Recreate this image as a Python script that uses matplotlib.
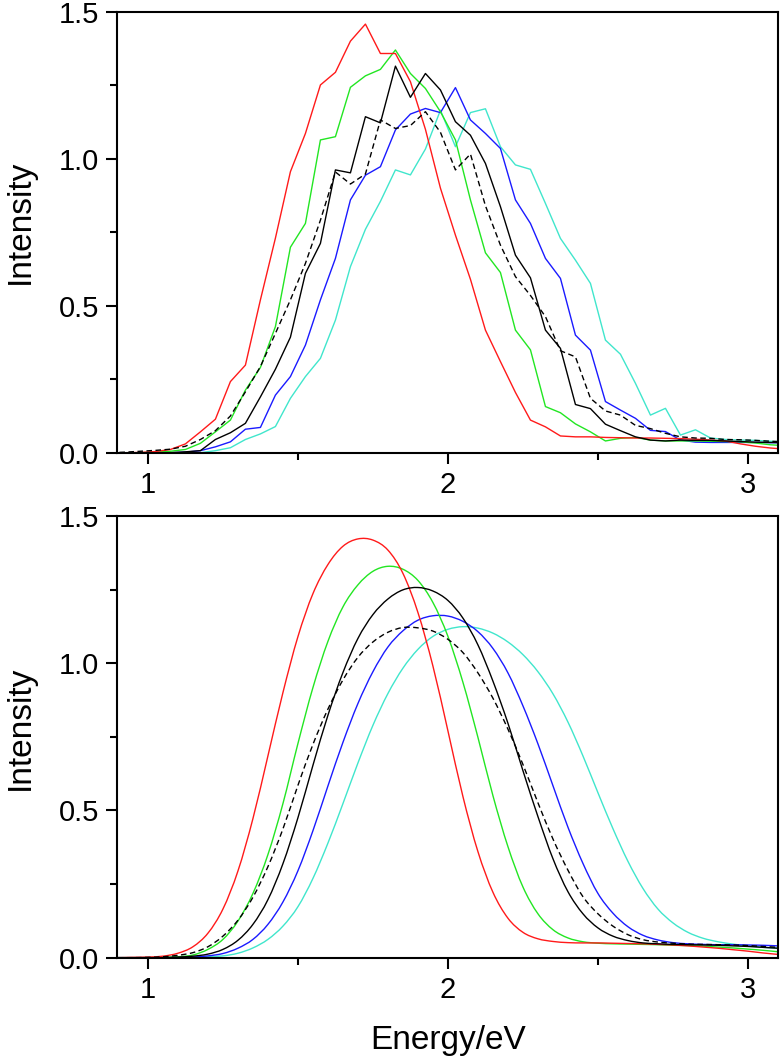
import matplotlib
matplotlib.use("Agg")
import matplotlib.pyplot as plt
from matplotlib.ticker import MultipleLocator, FormatStrFormatter
from matplotlib.path import Path
from matplotlib.patches import PathPatch

plt.rcParams['font.family'] = ['Liberation Sans', 'DejaVu Sans']

# top panel: measured spectra (bin centres, eV)
e_raw = [0.875, 0.925, 0.975, 1.025, 1.075, 1.125, 1.175, 1.225, 1.275, 1.325,
         1.375, 1.425, 1.475, 1.525, 1.575, 1.625, 1.675, 1.725, 1.775, 1.825,
         1.875, 1.925, 1.975, 2.025, 2.075, 2.125, 2.175, 2.225, 2.275, 2.325,
         2.375, 2.425, 2.475, 2.525, 2.575, 2.625, 2.675, 2.725, 2.775, 2.825,
         2.875, 2.925, 2.975, 3.025, 3.075, 3.125]
raw_red = [0.0, 0.0, 0.001, 0.004, 0.011, 0.030, 0.071, 0.114, 0.242, 0.298,
           0.52, 0.73, 0.956, 1.086, 1.251, 1.294, 1.400, 1.458, 1.358, 1.358,
           1.262, 1.10, 0.90, 0.74, 0.59, 0.417, 0.31, 0.205, 0.111, 0.088,
           0.057, 0.054, 0.054, 0.052, 0.051, 0.050, 0.050, 0.049, 0.048, 0.046,
           0.043, 0.040, 0.030, 0.022, 0.016, 0.012]
raw_green = [0.0, 0.0, 0.0, 0.002, 0.005, 0.011, 0.032, 0.071, 0.111, 0.213,
             0.29, 0.429, 0.699, 0.78, 1.064, 1.075, 1.243, 1.282, 1.304, 1.37,
             1.29, 1.239, 1.16, 1.064, 0.86, 0.68, 0.613, 0.417, 0.35, 0.157,
             0.136, 0.098, 0.071, 0.040, 0.049, 0.052, 0.043, 0.040, 0.040, 0.040,
             0.039, 0.038, 0.037, 0.033, 0.027, 0.024]
raw_black = [0.0, 0.0, 0.0, 0.0, 0.0, 0.003, 0.007, 0.045, 0.068, 0.10,
             0.19, 0.284, 0.393, 0.61, 0.712, 0.962, 0.952, 1.143, 1.122, 1.315,
             1.209, 1.29, 1.234, 1.126, 1.08, 0.984, 0.837, 0.672, 0.595, 0.417,
             0.355, 0.164, 0.15, 0.097, 0.075, 0.054, 0.043, 0.040, 0.043, 0.042,
             0.042, 0.040, 0.038, 0.036, 0.035, 0.034]
raw_mean = [0.0, 0.002, 0.005, 0.008, 0.012, 0.022, 0.045, 0.075, 0.125, 0.207,
            0.293, 0.406, 0.52, 0.644, 0.791, 0.955, 0.914, 0.948, 1.132, 1.103,
            1.113, 1.16, 1.09, 0.962, 1.016, 0.84, 0.706, 0.599, 0.535, 0.463,
            0.347, 0.326, 0.185, 0.142, 0.128, 0.093, 0.082, 0.066, 0.054, 0.050,
            0.049, 0.045, 0.044, 0.042, 0.039, 0.037]
raw_blue = [0.0, 0.0, 0.0, 0.0, 0.0, 0.002, 0.007, 0.02, 0.037, 0.08,
            0.086, 0.196, 0.259, 0.366, 0.52, 0.661, 0.86, 0.944, 0.973, 1.098,
            1.152, 1.171, 1.157, 1.242, 1.132, 1.086, 1.035, 0.86, 0.78, 0.661,
            0.593, 0.40, 0.349, 0.174, 0.145, 0.117, 0.076, 0.072, 0.043, 0.036,
            0.035, 0.035, 0.035, 0.035, 0.034, 0.034]
raw_cyan = [0.0, 0.0, 0.0, 0.0, 0.0, 0.0, 0.0, 0.007, 0.017, 0.045,
            0.064, 0.089, 0.185, 0.259, 0.321, 0.451, 0.633, 0.76, 0.855, 0.962,
            0.945, 1.033, 1.165, 1.041, 1.157, 1.17, 1.041, 0.979, 0.964, 0.848,
            0.729, 0.655, 0.576, 0.383, 0.335, 0.236, 0.128, 0.151, 0.06, 0.078,
            0.05, 0.045, 0.043, 0.042, 0.039, 0.037]

# bottom panel: fitted curves
e_fit = [0.90, 0.95, 1.00, 1.05, 1.10, 1.15, 1.20, 1.25, 1.30, 1.35,
         1.40, 1.45, 1.50, 1.55, 1.60, 1.65, 1.70, 1.75, 1.80, 1.85,
         1.90, 1.95, 2.00, 2.05, 2.10, 2.15, 2.20, 2.25, 2.30, 2.35,
         2.40, 2.45, 2.50, 2.55, 2.60, 2.65, 2.70, 2.75, 2.80, 2.85,
         2.90, 2.95, 3.00, 3.05, 3.10]
fit_red = [0.000, 0.001, 0.002, 0.005, 0.015, 0.037, 0.083, 0.165, 0.294, 0.472,
           0.685, 0.900, 1.090, 1.236, 1.335, 1.397, 1.422, 1.418, 1.384, 1.305,
           1.172, 0.990, 0.770, 0.547, 0.360, 0.222, 0.134, 0.086, 0.064, 0.055,
           0.051, 0.050, 0.050, 0.049, 0.048, 0.047, 0.045, 0.043, 0.040, 0.036,
           0.032, 0.027, 0.022, 0.016, 0.011]
fit_green = [0.000, 0.000, 0.000, 0.001, 0.003, 0.009, 0.028, 0.062, 0.124, 0.218,
             0.350, 0.523, 0.727, 0.917, 1.074, 1.191, 1.266, 1.312, 1.329, 1.319,
             1.281, 1.206, 1.091, 0.935, 0.748, 0.550, 0.377, 0.240, 0.149, 0.095,
             0.067, 0.054, 0.049, 0.047, 0.046, 0.045, 0.044, 0.042, 0.041, 0.039,
             0.036, 0.033, 0.029, 0.025, 0.020]
fit_black = [0.000, 0.000, 0.000, 0.000, 0.002, 0.005, 0.012, 0.028, 0.059, 0.113,
             0.197, 0.319, 0.475, 0.653, 0.823, 0.968, 1.084, 1.165, 1.218, 1.249,
             1.257, 1.245, 1.213, 1.153, 1.062, 0.939, 0.796, 0.635, 0.479, 0.336,
             0.224, 0.149, 0.101, 0.073, 0.058, 0.050, 0.047, 0.045, 0.044, 0.043,
             0.042, 0.040, 0.038, 0.035, 0.032]
fit_mean = [0.000, 0.000, 0.001, 0.003, 0.008, 0.017, 0.037, 0.073, 0.127, 0.205,
            0.309, 0.437, 0.585, 0.724, 0.844, 0.943, 1.020, 1.072, 1.105, 1.121,
            1.120, 1.109, 1.081, 1.036, 0.967, 0.881, 0.776, 0.656, 0.526, 0.403,
            0.297, 0.207, 0.149, 0.107, 0.078, 0.061, 0.053, 0.049, 0.046, 0.045,
            0.044, 0.043, 0.041, 0.038, 0.035]
fit_blue = [0.000, 0.000, 0.000, 0.000, 0.001, 0.002, 0.006, 0.014, 0.032, 0.062,
            0.113, 0.189, 0.295, 0.431, 0.583, 0.731, 0.863, 0.971, 1.055, 1.110,
            1.146, 1.161, 1.160, 1.142, 1.107, 1.050, 0.967, 0.855, 0.726, 0.584,
            0.443, 0.320, 0.218, 0.151, 0.105, 0.076, 0.060, 0.051, 0.047, 0.045,
            0.044, 0.044, 0.043, 0.042, 0.040]
fit_cyan = [0.000, 0.000, 0.000, 0.000, 0.000, 0.001, 0.003, 0.006, 0.015, 0.033,
            0.062, 0.107, 0.173, 0.269, 0.389, 0.523, 0.661, 0.789, 0.897, 0.983,
            1.047, 1.091, 1.115, 1.124, 1.119, 1.102, 1.072, 1.029, 0.971, 0.896,
            0.800, 0.685, 0.560, 0.438, 0.327, 0.235, 0.165, 0.118, 0.086, 0.066,
            0.054, 0.046, 0.040, 0.035, 0.032]

c_red = '#ff1a1a'
c_green = '#22e622'
c_blue = '#1a1aff'
c_cyan = '#40e6cc'
dash = (0, (4, 2.5))


def smooth_line(ax, x, y, **kw):
    # draw the fitted curve through its points as Bezier segments (Catmull-Rom)
    n = len(x)
    verts = [(x[0], y[0])]
    codes = [Path.MOVETO]
    for i in range(n - 1):
        i0 = max(i - 1, 0)
        i3 = min(i + 2, n - 1)
        c1 = (x[i] + (x[i + 1] - x[i0]) / 6, y[i] + (y[i + 1] - y[i0]) / 6)
        c2 = (x[i + 1] - (x[i3] - x[i]) / 6, y[i + 1] - (y[i3] - y[i]) / 6)
        verts += [c1, c2, (x[i + 1], y[i + 1])]
        codes += [Path.CURVE4] * 3
    ax.add_patch(PathPatch(Path(verts, codes), fill=False, **kw))


fig = plt.figure(figsize=(7.8, 10.59), dpi=100)
ax1 = fig.add_axes([0.15, 0.5725, 0.8474, 0.4164])
ax2 = fig.add_axes([0.15, 0.0957, 0.8474, 0.4171])

ax1.plot(e_raw, raw_cyan, color=c_cyan, lw=1.0)
ax1.plot(e_raw, raw_blue, color=c_blue, lw=1.0)
ax1.plot(e_raw, raw_green, color=c_green, lw=1.0)
ax1.plot(e_raw, raw_red, color=c_red, lw=1.0)
ax1.plot(e_raw, raw_black, color='black', lw=1.0)
ax1.plot(e_raw, raw_mean, color='black', lw=1.0, ls=dash)

smooth_line(ax2, e_fit, fit_cyan, edgecolor=c_cyan, lw=1.0)
smooth_line(ax2, e_fit, fit_blue, edgecolor=c_blue, lw=1.0)
smooth_line(ax2, e_fit, fit_green, edgecolor=c_green, lw=1.0)
smooth_line(ax2, e_fit, fit_red, edgecolor=c_red, lw=1.0)
smooth_line(ax2, e_fit, fit_black, edgecolor='black', lw=1.0)
smooth_line(ax2, e_fit, fit_mean, edgecolor='black', lw=1.0, ls=dash)

for ax in (ax1, ax2):
    ax.set_xlim(0.897, 3.1)
    ax.set_ylim(0, 1.5)
    ax.xaxis.set_major_locator(MultipleLocator(1))
    ax.xaxis.set_minor_locator(MultipleLocator(0.5))
    ax.yaxis.set_major_locator(MultipleLocator(0.5))
    ax.yaxis.set_minor_locator(MultipleLocator(0.25))
    ax.yaxis.set_major_formatter(FormatStrFormatter('%.1f'))
    ax.tick_params(which='both', direction='out', width=1.5, top=False, right=False)
    ax.tick_params(which='major', length=8, labelsize=21)
    ax.tick_params(axis='y', which='major', pad=5)
    ax.tick_params(axis='x', which='major', pad=5)
    ax.tick_params(which='minor', length=5)
    for s in ax.spines.values():
        s.set_linewidth(1.5)

fig.text(20 / 780, 1 - 222 / 1059, 'Intensity', rotation=90, ha='center', va='center', fontsize=24)
fig.text(20 / 780, 1 - 728 / 1059, 'Intensity', rotation=90, ha='center', va='center', fontsize=24)
fig.text(448 / 780, 1 - 1040 / 1059, 'Energy/eV', ha='center', va='center', fontsize=24)

fig.savefig('out.png', dpi=100)
